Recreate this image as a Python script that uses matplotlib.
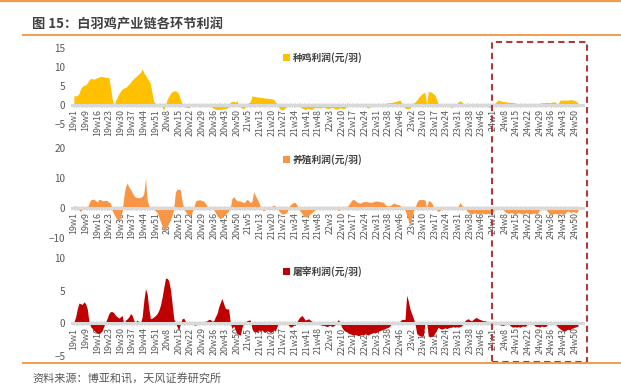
import matplotlib
matplotlib.use('Agg')
import matplotlib.pyplot as plt
import numpy as np
from matplotlib.patches import Rectangle, Patch
from matplotlib.lines import Line2D

plt.rcParams['font.family'] = ['Noto Sans CJK SC', 'DejaVu Sans']

tick_labels = ['19w1', '19w9', '19w16', '19w23', '19w30', '19w37', '19w44', '19w51',
               '20w8', '20w15', '20w22', '20w29', '20w36', '20w43', '20w50',
               '21w5', '21w13', '21w20', '21w27', '21w34', '21w41', '21w48',
               '22w3', '22w10', '22w17', '22w24', '22w31', '22w38', '22w46',
               '23w2', '23w10', '23w17', '23w24', '23w31', '23w38', '23w46',
               '24w1', '24w8', '24w15', '24w22', '24w29', '24w36', '24w43', '24w50']

breeder = [
    2.5, 2.4, 2.5, 3.0, 4.3, 4.9, 5.2,
    5.3, 5.8, 6.6, 7.0, 6.9, 6.8, 7.0,
    7.2, 7.3, 7.5, 7.5, 7.4, 7.3, 7.3,
    7.2, 4.5, 1.5, -0.3, 1.2, 2.0, 3.0,
    3.6, 4.2, 4.5, 4.6, 5.0, 5.5, 5.9,
    6.6, 7.0, 7.4, 7.8, 8.2, 8.6, 9.5,
    8.5, 7.8, 7.1, 6.4, 5.6, 3.0, 0.9,
    0.3, 0.0, -0.5, 0.3, -0.5, -1.3, 0.0,
    1.5, 2.3, 3.0, 3.5, 3.7, 3.7, 3.5,
    2.8, 1.5, 0.3, -0.3, -0.5, -0.7, -0.7,
    -0.4, 0.0, 0.0, 0.0, 0.0, 0.1, 0.2,
    0.3, 0.0, 0.0, 0.0, 0.0, -0.3, -0.6,
    -0.9, -1.1, -1.2, -1.2, -1.2, -1.1, -1.0,
    -1.0, -0.8, -0.5, 0.7, 0.9, 1.0, 0.8,
    1.1, 0.0, -0.5, -0.8, -1.0, -0.5, 0.3,
    0.6, 0.9, 2.4, 2.3, 2.2, 2.1, 2.1,
    2.0, 2.0, 1.9, 1.8, 1.8, 1.7, 1.7,
    1.6, 1.5, 0.9, 0.2, -0.6, -1.1, -1.3,
    -1.2, -0.8, -0.2, 0.1, 0.3, 0.2, 0.4,
    0.2, 0.0, -0.2, -0.5, -0.8, -1.0, -1.2,
    -1.0, -0.9, -1.1, -1.2, -0.8, -0.6, -0.7,
    -0.7, -0.8, -0.6, -0.5, -0.7, -0.9, -1.0,
    -0.8, -0.6, -0.8, -1.0, -1.1, -0.9, -0.7,
    -0.9, -1.0, -0.8, -0.3, 0.1, 0.3, 0.0,
    0.0, 0.1, 0.0, 0.0, 0.0, 0.0, 0.0,
    -0.3, -0.6, -0.8, -0.4, 0.0, 0.0, 0.1,
    0.1, 0.0, 0.1, 0.2, 0.3, 0.4, 0.5,
    0.6, 0.6, 0.7, 0.8, 0.9, 1.0, 1.2,
    1.3, 0.4, -0.3, -0.8, -1.0, -1.0, -0.8,
    -0.3, 0.4, 0.8, 1.3, 1.9, 2.4, 2.9,
    3.2, 3.3, 0.0, 3.5, 3.5, 3.3, 3.0,
    2.6, 1.5, 0.2, 0.0, 0.0, 0.0, 0.1,
    0.0, 0.0, -0.4, -0.7, -0.3, 0.0, 0.3,
    0.8, 1.1, 0.9, 0.2, 0.0, 0.0, 0.0,
    0.0, 0.1, 0.0, -0.1, 0.0, 0.0, 0.0,
    0.0, -0.1, -0.2, -0.3, -0.5, -0.7, -0.4,
    0.0, 0.4, 0.9, 1.3, 1.2, 1.0, 0.9,
    0.9, 0.8, 0.7, 0.7, 0.7, 0.6, 0.5,
    0.4, 0.4, 0.4, 0.3, 0.3, 0.2, 0.0,
    0.0, 0.0, -0.2, -0.3, 0.0, 0.0, 0.1,
    0.4, 0.6, 0.6, 0.6, 0.7, 0.7, 0.6,
    0.7, 0.9, 0.8, 0.5, 0.2, 1.2, 1.3,
    1.3, 1.3, 1.3, 1.3, 1.4, 1.4, 1.3,
    1.2, 0.9, 0.5,
]

broiler = [
    0.8, 0.5, 0.0, -0.6, -1.2, -0.3, 0.2,
    0.5, 0.1, 1.5, 2.7, 2.9, 2.9, 2.5,
    2.0, 2.9, 2.8, 2.4, 2.5, 2.6, 2.4,
    2.0, 1.6, -0.8, -2.0, -3.0, -3.8, -4.0,
    -3.0, -1.0, 4.0, 7.1, 8.4, 7.0, 6.2,
    5.2, 4.2, 3.6, 3.5, 3.4, 3.6, 3.8,
    4.9, 9.9, 2.7, 0.8, 0.3, 0.2, 0.0,
    -1.0, -1.5, -3.0, -4.5, -6.0, -7.2, -7.5,
    -6.0, -5.0, -4.0, -2.5, 0.0, 5.4, 6.2,
    6.3, 6.0, 2.1, 0.0, -1.2, -2.0, -2.4,
    -2.5, -1.5, 0.0, 2.3, 2.6, 2.7, 2.7,
    2.4, 2.3, 1.6, 0.6, 0.4, 0.4, 0.2,
    -0.5, -1.5, -2.5, -3.2, -3.5, -3.2, -2.5,
    -2.0, -1.5, -1.0, 0.2, 3.2, 3.8, 3.0,
    2.4, 2.4, 2.3, 2.1, 1.8, 2.2, 2.9,
    2.5, 1.8, 2.2, 5.4, 4.3, 3.2, 2.1,
    0.5, -0.5, -1.0, -0.3, 0.0, 0.0, 0.1,
    0.5, 1.0, 0.6, 0.0, -0.8, -1.5, -2.0,
    -2.0, -1.8, -1.5, 0.2, 1.0, 1.5, 1.9,
    1.8, 1.0, 0.0, -1.0, -1.8, -2.5, -3.0,
    -3.0, -2.5, -2.0, -1.6, -1.0, -0.5, 0.0,
    0.2, 0.0, 0.3, 0.1, 0.0, 0.0, 0.0,
    0.2, 0.0, 0.0, 0.0, -0.3, -0.8, -0.6,
    0.0, 0.0, 0.0, 0.3, 1.0, 1.8, 2.6,
    2.9, 2.5, 2.1, 1.8, 1.6, 1.9, 2.1,
    2.2, 2.1, 2.0, 1.9, 1.9, 2.1, 2.3,
    2.3, 2.2, 2.1, 2.0, 1.9, 1.2, 0.7,
    0.7, 0.8, 1.2, 1.6, 1.5, 1.2, 1.2,
    0.8, 0.4, 0.0, -0.5, -2.5, -4.0, -5.5,
    -3.0, -1.0, 0.0, 1.8, 2.7, 2.8, 2.9,
    2.8, 2.7, 0.0, 2.4, 2.3, 1.8, 0.5,
    0.0, -0.6, -1.2, -0.8, -0.5, -0.2, 0.0,
    0.0, 0.0, 0.0, 0.0, 0.0, -0.3, 0.0,
    0.5, 1.9, 1.0, 0.0, 0.0, -0.8, -1.5,
    -1.8, -2.0, -1.8, -1.6, -1.8, -2.0, -1.9,
    -1.7, -1.8, -2.0, -1.9, -1.8, -2.0, -1.6,
    -1.2, -0.3, 0.0, 0.0, 0.2, 0.3, -0.5,
    -1.2, -1.6, -1.8, -1.7, -1.5, -1.8, -2.0,
    -1.8, -1.6, -1.7, -1.9, -2.0, -1.8, -1.6,
    -1.8, -2.0, -1.9, -1.7, -1.8, -2.0, -1.5,
    -0.5, -0.3, -0.2, -0.3, -0.5, -1.5, -2.0,
    -2.1, -2.0, -1.8, -1.9, -2.0, -2.0, -1.8,
    -1.9, -2.0, -1.2, -1.0, -1.3, -1.5, -1.2,
    -1.4, -1.5, -1.0,
]

slaughter = [
    0.2, 1.0, 2.2, 3.1, 3.0, 2.9, 3.3,
    3.0, 2.2, 0.3, -0.5, -0.8, -1.1, -1.3,
    -1.5, -1.6, -1.4, -1.1, -0.4, 0.2, 0.8,
    1.5, 1.8, 1.8, 1.6, 1.2, 1.0, 0.8,
    1.0, 1.2, -0.2, 0.5, 0.7, 1.0, 1.5,
    1.2, 0.4, 0.2, 0.5, 0.2, 0.0, 1.0,
    3.5, 5.3, 4.5, 2.2, 0.7, 0.8, 1.0,
    1.2, 1.5, 2.0, 2.8, 4.0, 5.5, 6.9,
    6.9, 6.5, 5.2, 3.0, 0.7, 0.0, -0.5,
    -1.1, 0.0, 0.7, 0.8, 0.3, 0.1, 0.0,
    0.0, 0.0, -0.2, -0.3, 0.0, 0.1, 0.2,
    0.2, 0.2, 0.3, 0.4, 0.6, 0.6, 0.3,
    0.4, 1.0, 1.5, 2.5, 3.2, 3.8, 3.0,
    2.3, 2.2, 2.2, 0.0, -0.8, -0.4, -1.0,
    -1.6, -1.7, -1.8, -0.6, 0.0, 0.2, 0.4,
    0.5, 0.5, -0.8, -1.3, -1.2, -1.4, -1.0,
    -1.2, -1.0, -1.3, -1.4, -1.1, -1.2, -1.4,
    -1.3, -1.0, -1.2, -0.5, 0.0, 0.3, 0.2,
    0.2, 0.2, 0.0, -0.3, -0.6, -0.5, -0.3,
    -0.3, 0.2, 0.7, 1.0, 1.2, 0.9, 0.5,
    0.6, 0.7, 0.5, 0.3, 0.2, 0.1, 0.0,
    0.0, -0.2, -0.3, -0.3, -0.4, -0.5, -0.4,
    -0.3, -0.5, -0.4, -0.2, 0.2, 0.6, 0.0,
    -0.6, -1.0, -1.2, -1.3, -1.5, -1.6, -1.7,
    -1.8, -1.7, -1.8, -1.9, -1.8, -1.7, -1.8,
    -1.6, -1.7, -1.8, -1.6, -1.5, -1.4, -1.5,
    -1.3, -1.2, -1.1, -1.0, -0.9, -0.8, -0.7,
    -0.6, -0.4, 0.0, 0.3, 0.2, 0.0, 0.0,
    0.3, 0.6, 0.6, 0.6, 4.3, 3.4, 2.2,
    1.5, 0.8, 0.0, -1.5, -1.8, -1.9, -2.0,
    -1.9, 0.0, 0.3, -2.0, -2.0, -2.0, -1.9,
    -1.5, -1.0, -0.6, -0.8, -0.9, -0.8, -0.7,
    -0.8, -0.7, -0.6, -0.6, -0.5, -0.6, -0.5,
    -0.6, -0.5, -0.4, 0.0, 0.4, 0.6, 0.7,
    0.5, 0.4, 0.6, 0.8, 0.9, 0.7, 0.6,
    0.5, 0.4, 0.4, 0.3, 0.0, -0.1, -0.2,
    -0.2, -0.1, 0.0, 0.0, -0.2, -0.3, -0.3,
    -0.2, 0.0, 0.0, -0.3, -0.5, -0.6, -0.5,
    -0.6, -0.5, -0.6, -0.5, -0.4, -0.5, -0.3,
    0.0, 0.3, 0.1, 0.0, -0.4, -0.5, -0.5,
    -0.6, -0.4, -0.5, -0.5, -0.4, 0.0, 0.1,
    0.2, 0.2, 0.1, -0.3, -0.6, -0.8, -1.0,
    -1.1, -1.2, -1.0, -0.9, -1.0, -0.8, -0.7,
    -0.6, -0.5, -0.4,
]

W, H = 621, 387
fig = plt.figure(figsize=(W / 100, H / 100), dpi=100)


def fx(px):
    return px / W


def fy(py):
    return 1 - py / H


panels = [
    (breeder, '#FFC000', '种鸡利润(元/羽)', (-5, 15), [-5, 0, 5, 10, 15], 48, 124, 58),
    (broiler, '#F79646', '养殖利润(元/羽)', (-10, 20), [-10, 0, 10, 20], 148, 238, 160),
    (slaughter, '#C00000', '屠宰利润(元/羽)', (-5, 10), [-5, 0, 5, 10], 258, 356, 272),
]
x_left_px, x_right_px = 72.3, 583
grey = '#595959'
for vals, color, name, ylim, yt, top, bot, leg_y in panels:
    ax = fig.add_axes([fx(x_left_px), fy(bot), (x_right_px - x_left_px) / W, (bot - top) / H])
    ax.patch.set_alpha(0)
    x = np.arange(len(vals))
    ax.fill_between(x, 0, vals, color=color, lw=0, zorder=2)
    ax.set_xlim(-1, 306)
    ax.set_ylim(*ylim)
    ax.set_yticks(yt)
    ax.tick_params(axis='y', length=0, pad=5, labelsize=7.2, labelcolor=grey)
    for s in ['top', 'right', 'left']:
        ax.spines[s].set_visible(False)
    ax.spines['bottom'].set_position(('data', 0))
    ax.spines['bottom'].set_color('#d9d9d9')
    ax.spines['bottom'].set_linewidth(2.2)
    ax.spines['bottom'].set_zorder(5)
    ax.set_xticks(np.arange(len(tick_labels)) * 7)
    ax.set_xticklabels(tick_labels, rotation=90, fontsize=6.4, color=grey)
    ax.set_xticks(np.arange(0, len(vals)), minor=True)
    ax.tick_params(axis='x', which='major', length=3, width=0.6, color='#bfbfbf', pad=1.5, direction='inout')
    ax.tick_params(axis='x', which='minor', length=3, width=0.6, color='#bfbfbf', direction='inout')
    ax.legend(handles=[Patch(facecolor=color, edgecolor='none')], labels=[name],
              loc='center left', bbox_to_anchor=(fx(283), fy(leg_y)),
              bbox_transform=fig.transFigure, frameon=False,
              handlelength=0.75, handleheight=0.75, handletextpad=0.25,
              borderaxespad=0, borderpad=0,
              prop={'size': 7, 'weight': 'bold'}, labelcolor='#404040')

# decorations
orange = '#F29B4B'
fig.add_artist(Line2D([0, 1], [fy(0.8), fy(0.8)], color=orange, lw=1.6))
fig.add_artist(Line2D([fx(23), 1], [fy(35), fy(35)], color=orange, lw=1.4))
fig.add_artist(Line2D([fx(23), 1], [fy(363), fy(363)], color=orange, lw=1.4))
fig.text(fx(32), fy(24), '图 15：白羽鸡产业链各环节利润', fontsize=9.5, fontweight='bold',
         color='#404040', va='center', ha='left')
fig.text(fx(32), fy(379), '资料来源：博亚和讯，天风证券研究所', fontsize=8,
         color=grey, va='center', ha='left')
fig.add_artist(Rectangle((fx(492), fy(362)), fx(587) - fx(492), (362 - 42) / H,
                         fill=False, ec='#B03A3A', lw=1.5, ls=(0, (3, 2)),
                         transform=fig.transFigure))

fig.savefig('out.png', dpi=100)
